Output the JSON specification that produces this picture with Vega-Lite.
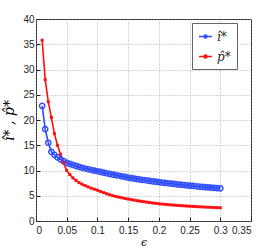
{
  "$schema": "https://vega.github.io/schema/vega-lite/v6.json",
  "width": 215,
  "height": 202,
  "autosize": {"type": "none"},
  "padding": {"left": 36, "top": 19, "right": 26, "bottom": 28},
  "background": "white",
  "config": {
    "view": {"stroke": "#222", "strokeWidth": 1},
    "axis": {"labelFont": "Liberation Sans", "labelFontSize": 10, "labelColor": "#222", "domain": false, "tickColor": "#222", "tickSize": -4, "gridColor": "#999", "gridDash": [1, 2], "gridOpacity": 0.8}
  },
  "datasets": {
    "d": [
      {"e":0.01,"v":22.8,"s":"i"},{"e":0.015,"v":18.2,"s":"i"},{"e":0.02,"v":15.5,"s":"i"},{"e":0.025,"v":13.7,"s":"i"},{"e":0.03,"v":13.1,"s":"i"},{"e":0.035,"v":12.6,"s":"i"},{"e":0.04,"v":12.2,"s":"i"},{"e":0.045,"v":11.85,"s":"i"},{"e":0.05,"v":11.5,"s":"i"},{"e":0.055,"v":11.3,"s":"i"},{"e":0.06,"v":11.1,"s":"i"},{"e":0.065,"v":10.9,"s":"i"},{"e":0.07,"v":10.72,"s":"i"},{"e":0.075,"v":10.55,"s":"i"},{"e":0.08,"v":10.4,"s":"i"},{"e":0.085,"v":10.25,"s":"i"},{"e":0.09,"v":10.1,"s":"i"},{"e":0.095,"v":9.97,"s":"i"},{"e":0.1,"v":9.85,"s":"i"},{"e":0.105,"v":9.71,"s":"i"},{"e":0.11,"v":9.58,"s":"i"},{"e":0.115,"v":9.45,"s":"i"},{"e":0.12,"v":9.32,"s":"i"},{"e":0.125,"v":9.2,"s":"i"},{"e":0.13,"v":9.08,"s":"i"},{"e":0.135,"v":8.96,"s":"i"},{"e":0.14,"v":8.84,"s":"i"},{"e":0.145,"v":8.72,"s":"i"},{"e":0.15,"v":8.6,"s":"i"},{"e":0.155,"v":8.5,"s":"i"},{"e":0.16,"v":8.4,"s":"i"},{"e":0.165,"v":8.3,"s":"i"},{"e":0.17,"v":8.21,"s":"i"},{"e":0.175,"v":8.12,"s":"i"},{"e":0.18,"v":8.03,"s":"i"},{"e":0.185,"v":7.95,"s":"i"},{"e":0.19,"v":7.86,"s":"i"},{"e":0.195,"v":7.78,"s":"i"},{"e":0.2,"v":7.7,"s":"i"},{"e":0.205,"v":7.62,"s":"i"},{"e":0.21,"v":7.55,"s":"i"},{"e":0.215,"v":7.48,"s":"i"},{"e":0.22,"v":7.41,"s":"i"},{"e":0.225,"v":7.34,"s":"i"},{"e":0.23,"v":7.27,"s":"i"},{"e":0.235,"v":7.2,"s":"i"},{"e":0.24,"v":7.13,"s":"i"},{"e":0.245,"v":7.07,"s":"i"},{"e":0.25,"v":7.0,"s":"i"},{"e":0.255,"v":6.94,"s":"i"},{"e":0.26,"v":6.88,"s":"i"},{"e":0.265,"v":6.82,"s":"i"},{"e":0.27,"v":6.77,"s":"i"},{"e":0.275,"v":6.72,"s":"i"},{"e":0.28,"v":6.66,"s":"i"},{"e":0.285,"v":6.61,"s":"i"},{"e":0.29,"v":6.55,"s":"i"},{"e":0.295,"v":6.5,"s":"i"},{"e":0.3,"v":6.45,"s":"i"},
      {"e":0.01,"v":35.8,"s":"p"},{"e":0.015,"v":28.0,"s":"p"},{"e":0.02,"v":23.6,"s":"p"},{"e":0.025,"v":20.5,"s":"p"},{"e":0.03,"v":17.3,"s":"p"},{"e":0.035,"v":15.0,"s":"p"},{"e":0.04,"v":13.2,"s":"p"},{"e":0.045,"v":11.5,"s":"p"},{"e":0.05,"v":10.0,"s":"p"},{"e":0.055,"v":9.2,"s":"p"},{"e":0.06,"v":8.55,"s":"p"},{"e":0.065,"v":8.05,"s":"p"},{"e":0.07,"v":7.6,"s":"p"},{"e":0.075,"v":7.28,"s":"p"},{"e":0.08,"v":7.0,"s":"p"},{"e":0.085,"v":6.74,"s":"p"},{"e":0.09,"v":6.5,"s":"p"},{"e":0.095,"v":6.3,"s":"p"},{"e":0.1,"v":6.1,"s":"p"},{"e":0.105,"v":5.85,"s":"p"},{"e":0.11,"v":5.62,"s":"p"},{"e":0.115,"v":5.4,"s":"p"},{"e":0.12,"v":5.2,"s":"p"},{"e":0.125,"v":5.02,"s":"p"},{"e":0.13,"v":4.86,"s":"p"},{"e":0.135,"v":4.72,"s":"p"},{"e":0.14,"v":4.59,"s":"p"},{"e":0.145,"v":4.46,"s":"p"},{"e":0.15,"v":4.34,"s":"p"},{"e":0.155,"v":4.23,"s":"p"},{"e":0.16,"v":4.12,"s":"p"},{"e":0.165,"v":4.02,"s":"p"},{"e":0.17,"v":3.92,"s":"p"},{"e":0.175,"v":3.83,"s":"p"},{"e":0.18,"v":3.74,"s":"p"},{"e":0.185,"v":3.65,"s":"p"},{"e":0.19,"v":3.57,"s":"p"},{"e":0.195,"v":3.49,"s":"p"},{"e":0.2,"v":3.42,"s":"p"},{"e":0.205,"v":3.36,"s":"p"},{"e":0.21,"v":3.3,"s":"p"},{"e":0.215,"v":3.24,"s":"p"},{"e":0.22,"v":3.19,"s":"p"},{"e":0.225,"v":3.14,"s":"p"},{"e":0.23,"v":3.09,"s":"p"},{"e":0.235,"v":3.05,"s":"p"},{"e":0.24,"v":3.01,"s":"p"},{"e":0.245,"v":2.97,"s":"p"},{"e":0.25,"v":2.93,"s":"p"},{"e":0.255,"v":2.89,"s":"p"},{"e":0.26,"v":2.86,"s":"p"},{"e":0.265,"v":2.82,"s":"p"},{"e":0.27,"v":2.79,"s":"p"},{"e":0.275,"v":2.76,"s":"p"},{"e":0.28,"v":2.73,"s":"p"},{"e":0.285,"v":2.7,"s":"p"},{"e":0.29,"v":2.67,"s":"p"},{"e":0.295,"v":2.64,"s":"p"},{"e":0.3,"v":2.62,"s":"p"}
    ]
  },
  "data": {"name": "d"},
  "encoding": {
    "x": {"field": "e", "type": "quantitative", "scale": {"domain": [0, 0.35], "nice": false},
      "axis": {"values": [0, 0.05, 0.1, 0.15, 0.2, 0.25, 0.3, 0.35], "format": "~g", "title": "ϵ", "titleFont": "DejaVu Serif", "titleFontStyle": "italic", "titleFontWeight": "normal", "titleFontSize": 11, "titlePadding": 1, "labelPadding": 8}},
    "y": {"field": "v", "type": "quantitative", "scale": {"domain": [0, 40], "nice": false},
      "axis": {"values": [0, 5, 10, 15, 20, 25, 30, 35, 40], "title": "î* ,  p̂*", "titleFont": "DejaVu Serif", "titleFontStyle": "italic", "titleFontWeight": "normal", "titleFontSize": 14, "titleX": -20, "labelPadding": 6}}
  },
  "layer": [
    {
      "mark": {"type": "line", "strokeWidth": 1.6},
      "encoding": {
        "color": {"field": "s", "type": "nominal",
          "scale": {"domain": ["i", "p"], "range": ["#2f4cff", "#ff1010"]},
          "legend": {"orient": "none", "legendX": 156, "legendY": 4, "title": null,
            "labelExpr": "datum.value == 'i' ? 'î*' : 'p̂*'",
            "labelFont": "DejaVu Serif", "labelFontStyle": "italic", "labelFontSize": 12, "labelColor": "#222",
            "symbolType": "M-1,0H1M-0.22,0A0.22,0.22 0 1,0 0.22,0A0.22,0.22 0 1,0 -0.22,0Z",
            "symbolSize": 169, "symbolStrokeWidth": 1.6, "symbolFillColor": null,
            "rowPadding": 6, "labelOffset": 4,
            "strokeColor": "#666", "fillColor": "white", "padding": 6}}
      }
    },
    {
      "transform": [{"filter": "datum.s == 'i'"}],
      "mark": {"type": "point", "shape": "circle", "filled": false, "size": 28, "strokeWidth": 1.4, "color": "#2f4cff", "opacity": 1}
    },
    {
      "transform": [{"filter": "datum.s == 'p'"}],
      "mark": {"type": "point", "shape": "square", "filled": true, "size": 9, "color": "#ff1010", "opacity": 1}
    }
  ]
}
